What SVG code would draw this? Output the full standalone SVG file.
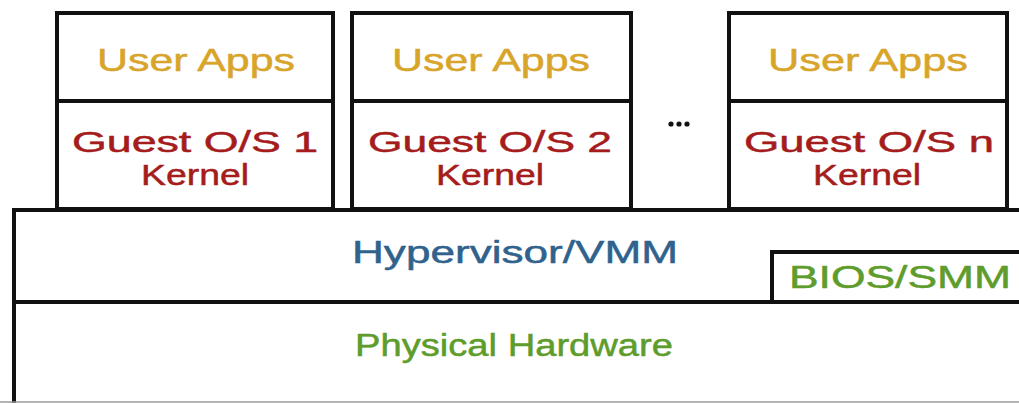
<svg xmlns="http://www.w3.org/2000/svg" width="1019" height="403" viewBox="0 0 1019 403">
  <style>
    .box { fill: #ffffff; stroke: #111111; stroke-width: 4; }
    .line { stroke: #111111; stroke-width: 4; fill: none; }
    text { font-family: "Liberation Sans", "DejaVu Sans", sans-serif; text-anchor: middle; stroke-width: 0.5px; stroke-linejoin: round; }
    .apps { fill: #D8A52A; stroke: #D8A52A; font-size: 32px; }
    .kernel { fill: #A51C1C; stroke: #A51C1C; font-size: 30px; }
    .hyp { fill: #2F628C; stroke: #2F628C; font-size: 31px; }
    .hw { fill: #5E9C2C; stroke: #5E9C2C; font-size: 31px; }
  </style>
  <rect width="1019" height="403" fill="#ffffff"/>

  <!-- Hypervisor / hardware stack -->
  <g id="hypervisor">
    <path class="line" d="M1021,210 H14 V403"/>
    <text class="hyp" x="515" y="263" textLength="326" lengthAdjust="spacingAndGlyphs">Hypervisor/VMM</text>
  </g>
  <g id="bios">
    <path class="line" d="M772,302 V252 H1021"/>
    <text class="hw" x="900" y="288" textLength="222" lengthAdjust="spacingAndGlyphs">BIOS/SMM</text>
  </g>
  <g id="hardware">
    <path class="line" d="M14,302 H1021"/>
    <line x1="0" y1="402" x2="1019" y2="402" stroke="#9a9a9a" stroke-width="1.5"/>
    <text class="hw" x="514" y="356" textLength="318" lengthAdjust="spacingAndGlyphs">Physical Hardware</text>
  </g>

  <!-- Guest VMs -->
  <g id="vm1">
    <rect class="box" x="57" y="13" width="276" height="196"/>
    <line class="line" x1="57" y1="101" x2="333" y2="101"/>
    <text class="apps" x="196" y="71" textLength="198" lengthAdjust="spacingAndGlyphs">User Apps</text>
    <text class="kernel" x="195" y="152" textLength="246" lengthAdjust="spacingAndGlyphs">Guest O/S 1</text>
    <text class="kernel" x="195" y="185" textLength="108" lengthAdjust="spacingAndGlyphs">Kernel</text>
  </g>
  <g id="vm2">
    <rect class="box" x="352" y="13" width="279" height="196"/>
    <line class="line" x1="352" y1="101" x2="631" y2="101"/>
    <text class="apps" x="491" y="71" textLength="198" lengthAdjust="spacingAndGlyphs">User Apps</text>
    <text class="kernel" x="490" y="152" textLength="244" lengthAdjust="spacingAndGlyphs">Guest O/S 2</text>
    <text class="kernel" x="490" y="185" textLength="108" lengthAdjust="spacingAndGlyphs">Kernel</text>
  </g>
  <g id="ellipsis">
    <circle cx="671" cy="124" r="2.6" fill="#111"/>
    <circle cx="679" cy="124" r="2.6" fill="#111"/>
    <circle cx="687" cy="124" r="2.6" fill="#111"/>
  </g>
  <g id="vmn">
    <rect class="box" x="729" y="13" width="278" height="196"/>
    <line class="line" x1="729" y1="101" x2="1007" y2="101"/>
    <text class="apps" x="868" y="71" textLength="200" lengthAdjust="spacingAndGlyphs">User Apps</text>
    <text class="kernel" x="869" y="152" textLength="250" lengthAdjust="spacingAndGlyphs">Guest O/S n</text>
    <text class="kernel" x="867" y="185" textLength="108" lengthAdjust="spacingAndGlyphs">Kernel</text>
  </g>
</svg>
